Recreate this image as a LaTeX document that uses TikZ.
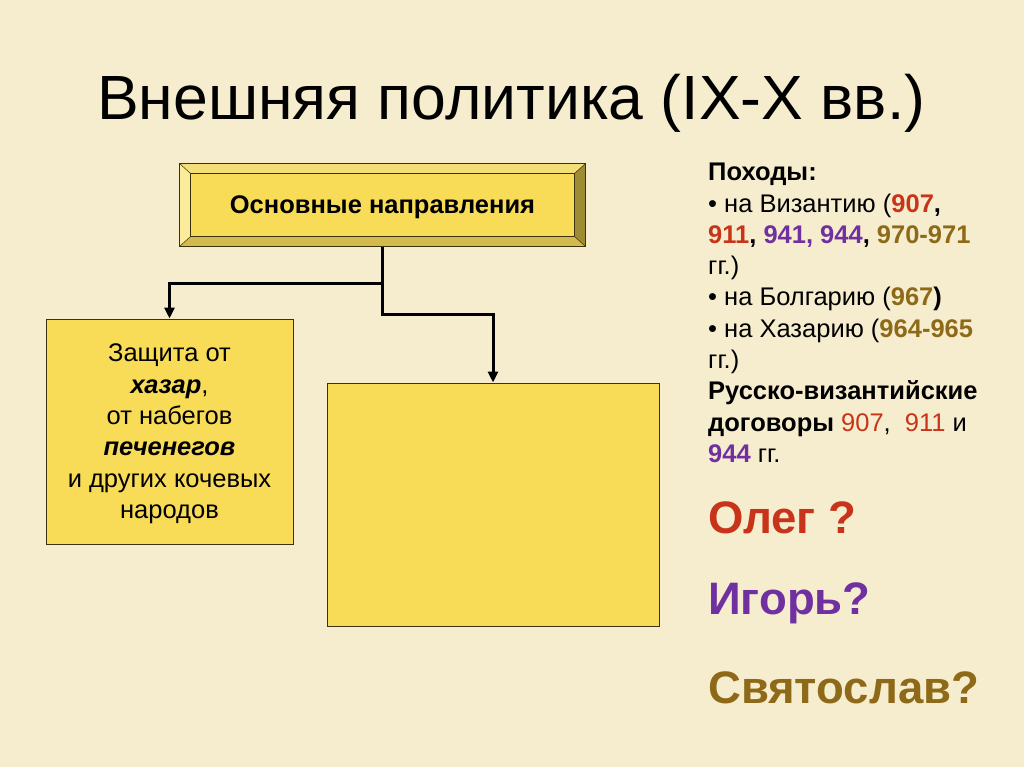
\documentclass[tikz,border=0pt]{standalone}
\usepackage{fontspec}
\setmainfont{Liberation Sans}
\usetikzlibrary{arrows.meta}
\definecolor{bg}{HTML}{F6EDCF}
\definecolor{boxfill}{HTML}{F8DC58}
\definecolor{bevlight}{HTML}{FBEC9C}
\definecolor{bevtop}{HTML}{F3DE78}
\definecolor{bevdark}{HTML}{9E8C34}
\definecolor{bevbot}{HTML}{D2BA4C}
\definecolor{edge}{HTML}{3A3210}
\definecolor{cred}{HTML}{C8341A}
\definecolor{cpurple}{HTML}{7030A0}
\definecolor{cbrown}{HTML}{8E6A18}
\tikzset{
  ybox/.style={draw=edge, line width=1pt, fill=boxfill, inner sep=0pt},
  conn/.style={draw=black, line width=3pt, -{Triangle[length=11pt,width=10pt]}},
  plainline/.style={draw=black, line width=3pt},
  bodytxt/.style={font=\fontsize{25.5}{31.4}\selectfont, align=center, inner sep=0pt},
  sidetxt/.style={font=\fontsize{25.5}{31.3}\selectfont, align=left, anchor=north west, inner sep=0pt},
  rulername/.style={font=\fontsize{45.5}{48}\selectfont\bfseries, anchor=west, inner sep=0pt}
}
\begin{document}
\begin{tikzpicture}[x=1pt,y=-1pt]
\fill[bg] (0,0) rectangle (1024,767);
\useasboundingbox (0,0) rectangle (1024,767);

% title
\node[font=\fontsize{62.5}{66}\selectfont, anchor=west, inner sep=0pt] (title) at (97,103) {Внешняя политика (IX-X вв.)};

% top bevel box
\node[ybox, minimum width=405pt, minimum height=82pt] (top) at (382.5,205) {};
\fill[bevtop] (top.north west) -- (top.north east) -- ([xshift=-11pt,yshift=-10pt]top.north east) -- ([xshift=11pt,yshift=-10pt]top.north west) -- cycle;
\fill[bevlight] (top.north west) -- ([xshift=11pt,yshift=-10pt]top.north west) -- ([xshift=11pt,yshift=10pt]top.south west) -- (top.south west) -- cycle;
\fill[bevdark] (top.north east) -- ([xshift=-11pt,yshift=-10pt]top.north east) -- ([xshift=-11pt,yshift=10pt]top.south east) -- (top.south east) -- cycle;
\fill[bevbot] (top.south west) -- ([xshift=11pt,yshift=10pt]top.south west) -- ([xshift=-11pt,yshift=10pt]top.south east) -- (top.south east) -- cycle;
\draw[edge, line width=1pt] (top.north west) rectangle (top.south east);
\draw[edge, line width=0.8pt] ([xshift=11pt,yshift=-10pt]top.north west) rectangle ([xshift=-11pt,yshift=10pt]top.south east);
\draw[edge, line width=0.5pt] (top.north west) -- ([xshift=11pt,yshift=-10pt]top.north west)
  (top.north east) -- ([xshift=-11pt,yshift=-10pt]top.north east)
  (top.south west) -- ([xshift=11pt,yshift=10pt]top.south west)
  (top.south east) -- ([xshift=-11pt,yshift=10pt]top.south east);
\node[font=\fontsize{25.5}{28}\selectfont\bfseries, inner sep=0pt] (toplabel) at (382.5,207) {Основные направления};

% lower boxes
\node[ybox, minimum width=247pt, minimum height=225pt] (left) at (169.5,431.5) {};
\node[bodytxt] (lefttext) at (169.5,434) {Защита от\\\textbf{\textit{хазар}},\\от набегов\\\textbf{\textit{печенегов}}\\и других кочевых\\народов};
\node[ybox, minimum width=332pt, minimum height=243pt] (mid) at (493,504.5) {};

% connectors
\coordinate (j1) at (382.5,283);
\coordinate (j2) at (382.5,314);
\draw[plainline] (top.south) -- (j1);
\draw[conn] (j1) -| (left.north);
\draw[conn] (j1) -- (j2) -| (mid.north);

% side text
\node[sidetxt] (sidetext) at (708,163) {\textbf{Походы:}\\
• на Византию (\textbf{\textcolor{cred}{907},}\\
\textbf{\textcolor{cred}{911}, \textcolor{cpurple}{941, 944}, \textcolor{cbrown}{970-971}}\\
гг.)\\
• на Болгарию (\textbf{\textcolor{cbrown}{967})}\\
• на Хазарию (\textbf{\textcolor{cbrown}{964-965}}\\
гг.)\\
\textbf{Русско-византийские}\\
\textbf{договоры} \textcolor{cred}{907},\ \ \textcolor{cred}{911} и\\
\textbf{\textcolor{cpurple}{944}} гг.};

% names
\node[rulername, text=cred] (oleg) at (708,518) {Олег ?};
\node[rulername, text=cpurple] (igor) at (708,603) {Игорь?};
\node[rulername, text=cbrown] (svyat) at (708,688) {Святослав?};
\end{tikzpicture}
\end{document}
